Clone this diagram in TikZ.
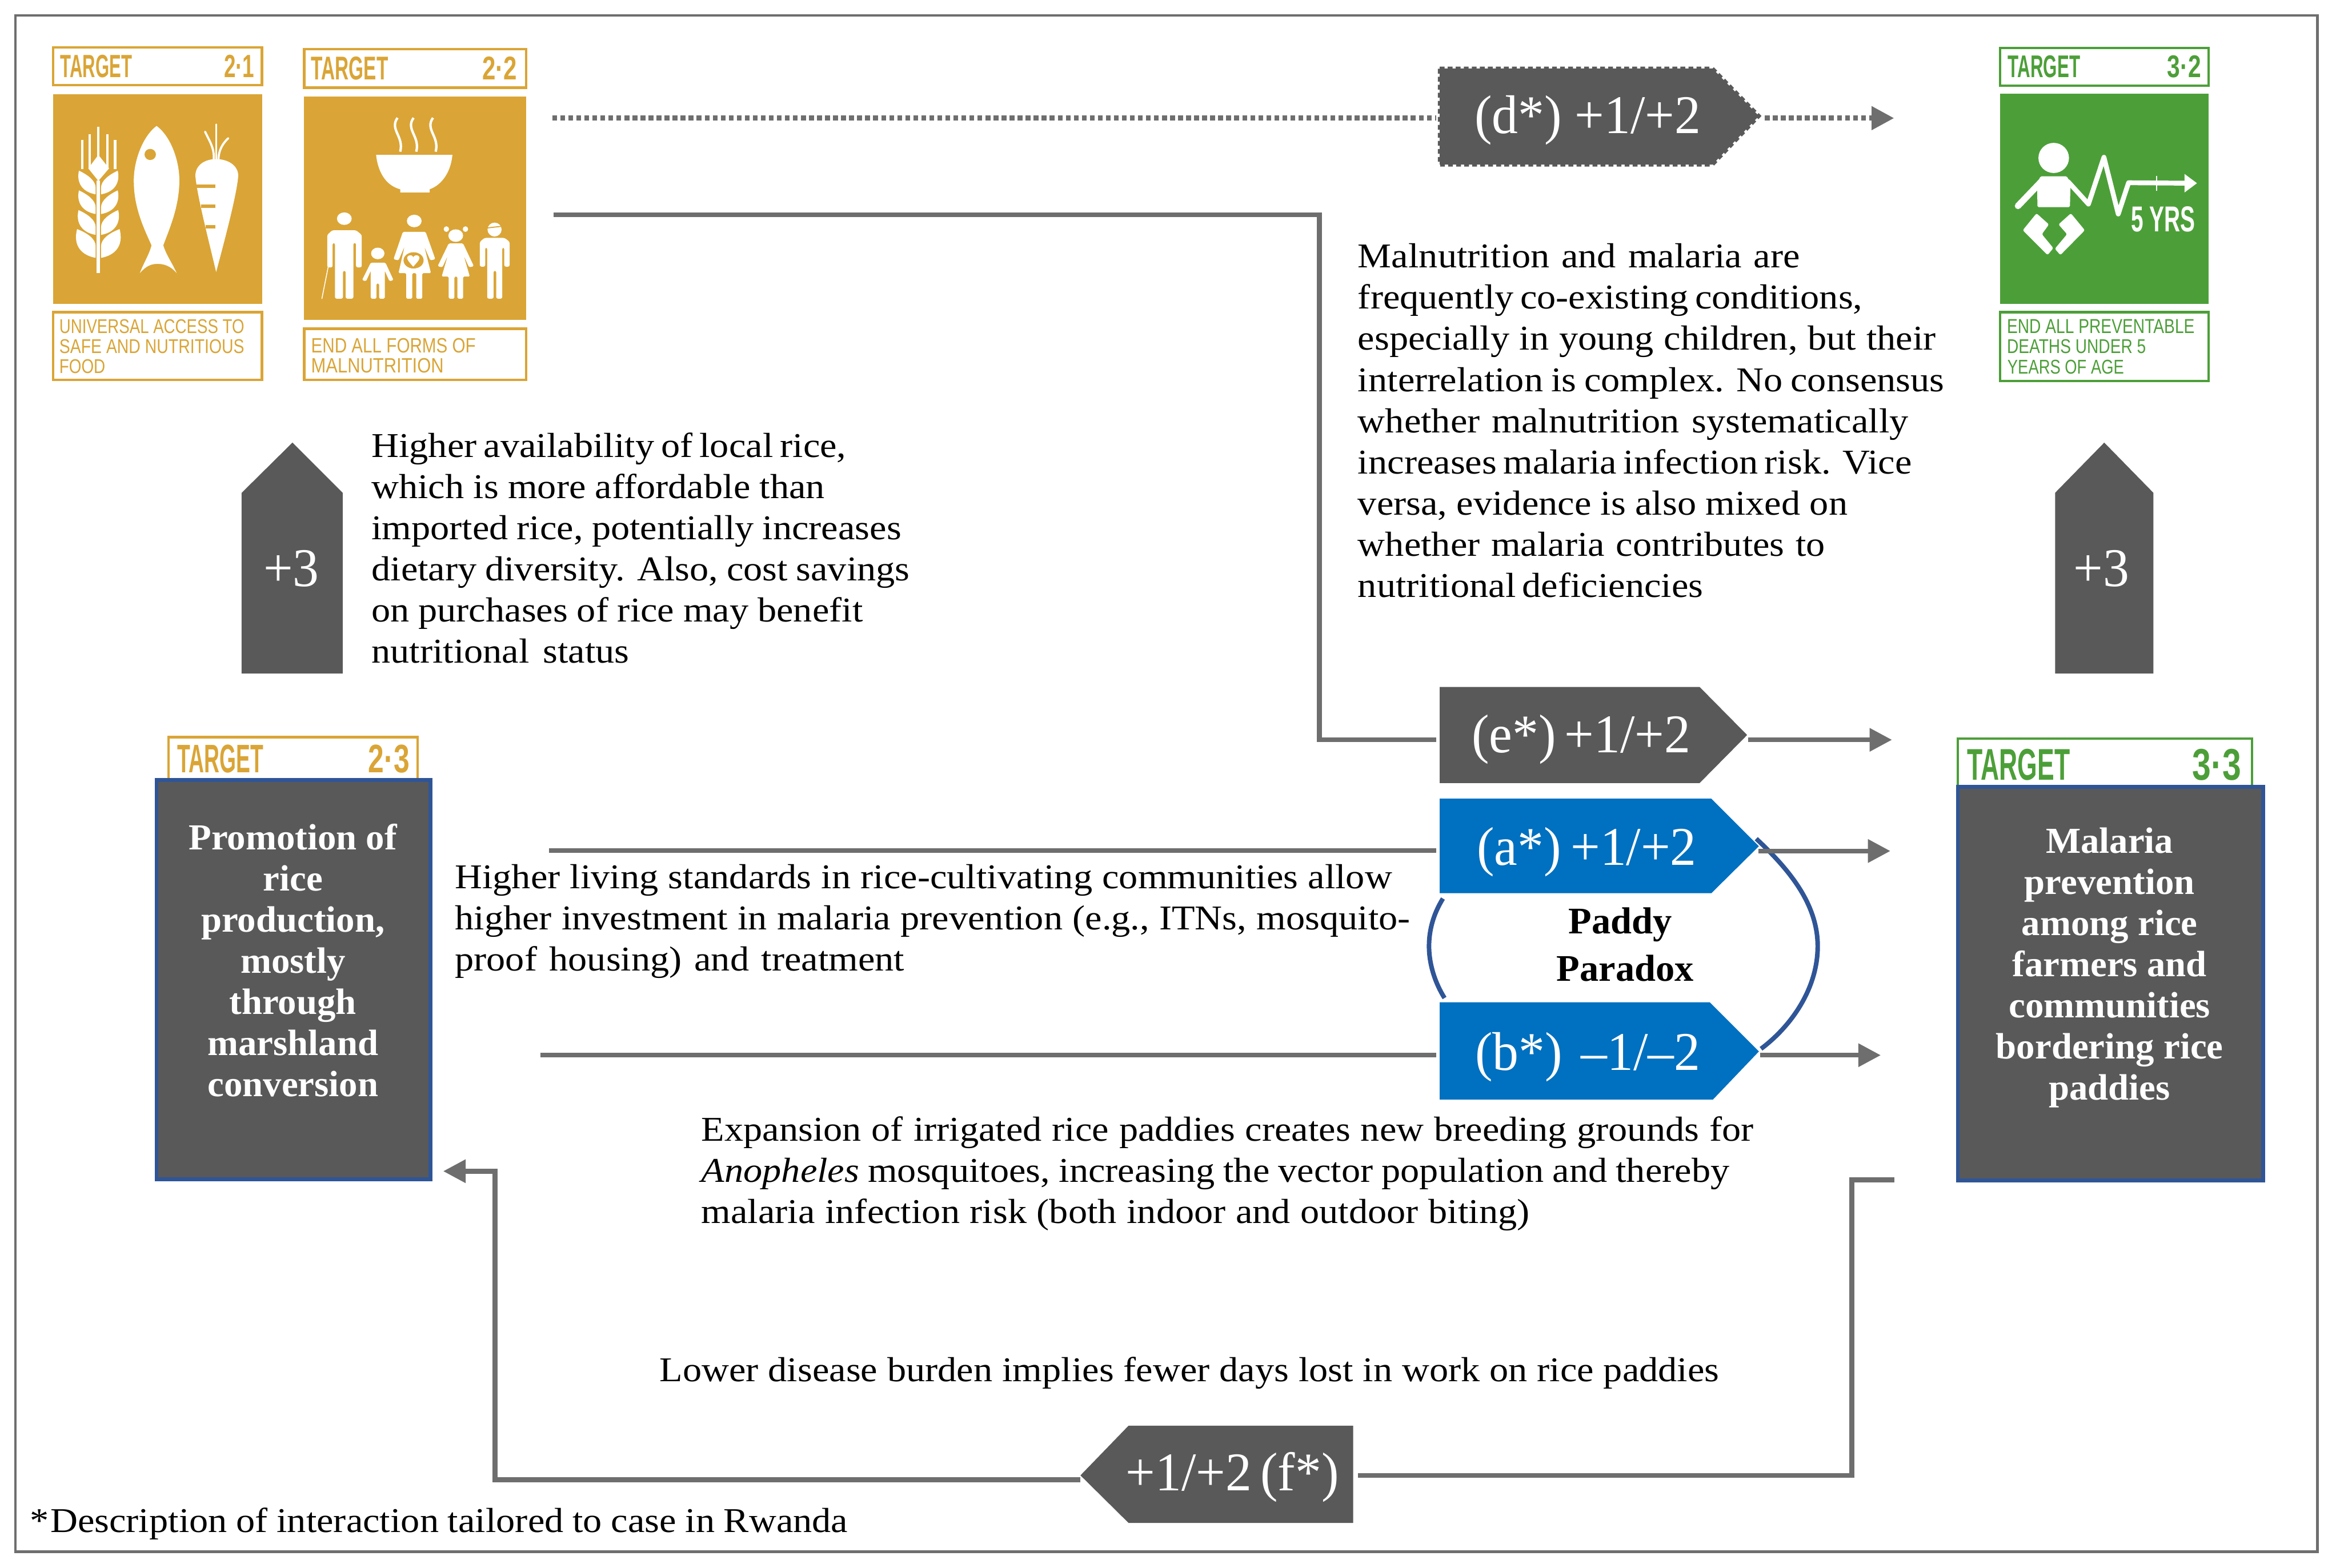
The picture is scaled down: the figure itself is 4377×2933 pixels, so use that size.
\documentclass[tikz,border=0pt]{standalone}
\usepackage{fontspec}
\usepackage{graphicx}
\usetikzlibrary{arrows.meta}
\setmainfont{Liberation Serif}
\newfontfamily\bodyf[FakeStretch=1.09]{Liberation Serif}
\newfontfamily\boldf[FakeStretch=1.01]{Liberation Serif}
\newfontfamily\bigf[FakeStretch=0.96]{Liberation Serif}
\newfontfamily\sdgf{Liberation Sans}
\newlength\pxu \setlength\pxu{0.01cm}
\definecolor{gold}{HTML}{DAA536}
\definecolor{sdggreen}{HTML}{4C9F38}
\definecolor{darkbox}{HTML}{595959}
\definecolor{conn}{HTML}{6E6E6E}
\definecolor{blueb}{HTML}{0070C0}
\definecolor{arcb}{HTML}{2F5597}
\newcommand\blocksetup{\baselineskip=77\pxu\lineskiplimit=-200pt\lineskip=0pt\parskip=0pt}
\newcommand\lineW[2]{\hbox{\makebox[#1\pxu][s]{#2}}}
\newcommand\lineC[1]{\hbox to 0pt{\hss #1\hss}}
\newcommand\bodysize{\bodyf\fontsize{18.5}{22}\selectfont}
\newcommand\boldsize{\boldf\bfseries\fontsize{19.5}{22}\selectfont}
\newcommand\bigsize{\bigf\fontsize{29}{34}\selectfont}
\newcommand\fitnode[7]{\node[txt,text=#2] (#1) at (#4,#5) {\resizebox{#6\pxu}{#7\pxu}{\sdgf #3}};}
\tikzset{
  txt/.style={anchor=base west,inner sep=0pt,outer sep=0pt},
  ctxt/.style={anchor=base,inner sep=0pt,outer sep=0pt},
  conline/.style={draw=conn,line width=9\pxu},
  conarrow/.style={conline,-{Triangle[length=0.42cm,width=0.42cm]}},
  dotline/.style={conline,dash pattern=on 0.09cm off 0.06cm,line width=10\pxu},
  condots/.style={conarrow,dash pattern=on 0.09cm off 0.06cm,line width=10\pxu},
  sdgframe/.style={line width=4.5\pxu,fill=white},
  darkbox/.style={fill=darkbox,draw=arcb,line width=7\pxu},
  tag/.style={fill=darkbox},
  tagblue/.style={fill=blueb},
  paradox/.style={draw=arcb,line width=8.5\pxu},
  stroke/.style={draw=white,line cap=round,line join=round},
}
\begin{document}
\begin{tikzpicture}[x=0.01cm,y=-0.01cm]
\useasboundingbox (0,0) rectangle (4377,2933);
\fill[white] (0,0) rectangle (4377,2933);
\draw[conn,line width=5\pxu] (29,29) rectangle (4335,2903);

% ---------- named ports
\coordinate (dIn) at (1033,221); \coordinate (dL) at (2686,221);
\coordinate (dR) at (3301,221); \coordinate (dEnd) at (3543,221);
\coordinate (eIn) at (1036,402); \coordinate (eCorner) at (2468,402); \coordinate (eCornerB) at (2468,1384);
\coordinate (eL) at (2686,1384); \coordinate (eR) at (3270,1384); \coordinate (eEnd) at (3539,1384);
\coordinate (aIn) at (1027,1591); \coordinate (aL) at (2686,1591); \coordinate (aR) at (3289,1592); \coordinate (aEnd) at (3536,1592);
\coordinate (bIn) at (1011,1974); \coordinate (bL) at (2686,1974); \coordinate (bR) at (3292,1974); \coordinate (bEnd) at (3518,1974);
\coordinate (fIn) at (3543,2207); \coordinate (fC1) at (3464,2207); \coordinate (fC2) at (3464,2760); \coordinate (fR) at (2540,2760);
\coordinate (fL) at (2021,2768); \coordinate (fC3) at (926,2768); \coordinate (fC4) at (926,2191); \coordinate (fEnd) at (829,2191);

% ---------- connectors
\draw[dotline] (dIn) -- (dL);
\draw[condots] (dR) -- (dEnd);
\draw[conline,line join=miter] (eIn) -- (eCorner) -- (eCornerB) -- (eL);
\draw[conarrow] (eR) -- (eEnd);
\draw[conline] (aIn) -- (aL);
\draw[conline] (bIn) -- (bL);
\draw[conarrow] (bR) -- (bEnd);
\draw[conline] (fIn) -- (fC1) -- (fC2) -- (fR);
\draw[conarrow] (fL) -- (fC3) -- (fC4) -- (fEnd);

% ---------- Paddy paradox arcs
\draw[paradox] (3285,1569) .. controls (3345,1625) and (3400,1690) .. (3400,1770) .. controls (3400,1850) and (3350,1920) .. (3294,1962);
\draw[paradox] (2699,1681) .. controls (2681,1710) and (2673,1740) .. (2673,1770) .. controls (2673,1805) and (2685,1840) .. (2702,1867);
\draw[conarrow] (aR) -- (aEnd);

% ---------- tags
\path[tag,draw=darkbox,dash pattern=on 0.09cm off 0.06cm,line width=7\pxu] (2693,128) -- (3203,128) -- (3290,217) -- (3203,308) -- (2693,308) -- cycle;
\node[ctxt,text=white] (dTag) at (2970,250) {\bigsize\lineW{423}{(d*) +1/+2}};
\fill[tag] (2693,1285) -- (3179,1285) -- (3268,1375) -- (3179,1465) -- (2693,1465) -- cycle;
\node[ctxt,text=white] (eTag) at (2957,1408) {\bigsize\lineW{408}{(e*) +1/+2}};
\fill[tagblue] (2693,1494) -- (3201,1494) -- (3290,1583) -- (3201,1671) -- (2693,1671) -- cycle;
\node[ctxt,text=white] (aTag) at (2968,1618) {\bigsize\lineW{411}{(a*) +1/+2}};
\fill[tagblue] (2693,1875) -- (3198,1875) -- (3290,1967) -- (3204,2057) -- (2693,2057) -- cycle;
\node[ctxt,text=white] (bTag) at (2970,2002) {\bigsize\lineW{421}{(b*) –1/–2}};
\fill[tag] (2111,2667) -- (2531,2667) -- (2531,2849) -- (2111,2849) -- (2021,2760) -- cycle;
\node[ctxt,text=white] (fTag) at (2304,2789) {\bigsize\lineW{396}{+1/+2 (f*)}};

% ---------- up arrows +3
\fill[tag] (452,1260) -- (452,922) -- (547,828) -- (641,922) -- (641,1260) -- cycle;
\node[ctxt,text=white] (upL) at (545,1097) {\bigsize +3};
\fill[tag] (3844,1260) -- (3844,922) -- (3936,828) -- (4028,922) -- (4028,1260) -- cycle;
\node[ctxt,text=white] (upR) at (3931,1097) {\bigsize +3};

% ---------- Target 2.1
\draw[sdgframe,draw=gold] (99,89) rectangle (490,159);
\fill[gold] (99,176) rectangle (490,568);
\draw[sdgframe,draw=gold] (99,584) rectangle (490,711);
\fitnode{t21a}{gold}{\bfseries TARGET}{113}{145}{134}{42}
\fitnode{t21b}{gold}{\bfseries 2·1}{419}{145}{57}{42}
\fitnode{t21c}{gold}{UNIVERSAL ACCESS TO}{111}{624}{346}{26}
\fitnode{t21d}{gold}{SAFE AND NUTRITIOUS}{111}{661}{346}{26}
\fitnode{t21e}{gold}{FOOD}{111}{698}{86}{26}

% ---------- Target 2.2
\draw[sdgframe,draw=gold] (569,92) rectangle (984,164);
\fill[gold] (569,181) rectangle (984,598);
\draw[sdgframe,draw=gold] (569,615) rectangle (984,711);
\fitnode{t22a}{gold}{\bfseries TARGET}{582}{149}{144}{43}
\fitnode{t22b}{gold}{\bfseries 2·2}{902}{149}{65}{43}
\fitnode{t22c}{gold}{END ALL FORMS OF}{582}{660}{308}{27}
\fitnode{t22d}{gold}{MALNUTRITION}{582}{697}{248}{27}

% ---------- Target 3.2
\draw[sdgframe,draw=sdggreen] (3741,90) rectangle (4131,160);
\fill[sdggreen] (3741,175) rectangle (4131,568);
\draw[sdgframe,draw=sdggreen] (3741,584) rectangle (4131,713);
\fitnode{t32a}{sdggreen}{\bfseries TARGET}{3756}{145}{135}{41}
\fitnode{t32b}{sdggreen}{\bfseries 3·2}{4054}{145}{63}{41}
\fitnode{t32c}{sdggreen}{END ALL PREVENTABLE}{3754}{623}{351}{26}
\fitnode{t32d}{sdggreen}{DEATHS UNDER 5}{3754}{661}{260}{26}
\fitnode{t32e}{sdggreen}{YEARS OF AGE}{3755}{699}{218}{26}

% ---------- icons, in crop coordinates
\begin{scope}[xshift=0.6cm,yshift=-0.6cm,x=0.00625cm,y=-0.004338cm]
  % wheat
  \draw[stroke,line width=6\pxu,line cap=butt] (198,640) -- (198,1040);
  \foreach \X/\T in {150/465,172/440,198/408,225/440,248/465}
    \draw[stroke,line width=4.5\pxu,line cap=butt] (\X,\T) -- (\X,590);
  \fill[white] (198,530) -- (230,588) -- (198,642) -- (168,588) -- cycle;
  \foreach \o/\h in {0/0,85/0,170/5,252/22}{
    \fill[white] (140-\h/4,598+\o) .. controls (165,615+\o) and (190,640+\o) .. (190,672+\o) -- (190,700+\o+\h) .. controls (150,690+\o+\h) and (132-\h/2,650+\o+\h) .. cycle;
    \fill[white] (256+\h/4,598+\o) .. controls (231,615+\o) and (206,640+\o) .. (206,672+\o) -- (206,700+\o+\h) .. controls (246,690+\o+\h) and (264+\h/2,650+\o+\h) .. cycle;
  }
  % fish
  \fill[white] (372,405) .. controls (415,450) and (442,560) .. (440,650) .. controls (438,760) and (410,850) .. (392,920)
     .. controls (400,960) and (420,1000) .. (432,1040) .. controls (415,1010) and (395,1000) .. (375,1000) .. controls (355,1000) and (340,1010) .. (322,1040)
     .. controls (332,1000) and (350,960) .. (357,920) .. controls (335,850) and (305,760) .. (304,650) .. controls (302,560) and (330,450) .. cycle;
  \fill[gold] (353,528) ellipse [x radius=17,y radius=24];
  % carrot
  \fill[white] (550,1035) .. controls (575,900) and (612,700) .. (616,620) .. controls (616,575) and (585,548) .. (550,548) .. controls (515,548) and (488,575) .. (488,620) .. controls (492,700) and (528,900) .. cycle;
  \fill[gold] (492,658) rectangle (547,672);
  \fill[gold] (505,745) rectangle (547,759);
  \fill[gold] (518,833) rectangle (547,847);
  \draw[stroke,line width=3\pxu] (550,398) -- (550,550);
  \draw[stroke,line width=4\pxu] (517,430) .. controls (530,470) and (545,500) .. (543,550);
  \draw[stroke,line width=4\pxu] (586,458) .. controls (570,480) and (557,510) .. (557,550);
  % bowl
  \fill[white] (1028,530) -- (1256,530) .. controls (1250,620) and (1215,665) .. (1188,678) -- (1188,692) -- (1100,692) -- (1100,678) .. controls (1065,665) and (1035,620) .. cycle;
  \foreach \X in {1092,1140,1198}
    \draw[stroke,line width=4.5\pxu,line cap=butt] (\X,370) .. controls (\X-25,420) and (\X+20,450) .. (\X+8,516);
  % old man
  \fill[white] (933,805) ellipse [x radius=22,y radius=27];
  \fill[white,rounded corners=3\pxu] (882,1015) -- (882,875) -- (897,855) -- (968,855) -- (985,875) -- (985,1015) -- (968,1015) -- (968,910) -- (960,910) -- (960,1150) -- (937,1150) -- (937,1030) -- (929,1030) -- (929,1150) -- (905,1150) -- (905,910) -- (898,910) -- (898,1015) -- cycle;
  \draw[stroke,line width=1.6\pxu] (888,990) -- (866,1150);
  % child
  \fill[white] (1033,955) ellipse [x radius=20,y radius=25];
  \fill[white,rounded corners=2\pxu] (1012,995) -- (1056,995) -- (1080,1070) -- (1068,1075) -- (1054,1030) -- (1054,1150) -- (1037,1150) -- (1037,1085) -- (1029,1085) -- (1029,1150) -- (1012,1150) -- (1012,1030) -- (998,1075) -- (986,1070) -- cycle;
  % pregnant woman
  \fill[white] (1142,815) ellipse [x radius=22,y radius=27];
  \fill[white,rounded corners=2\pxu] (1108,862) -- (1176,862) -- (1205,980) -- (1190,985) -- (1172,925) -- (1192,1040) -- (1166,1040) -- (1166,1150) -- (1148,1150) -- (1148,1040) -- (1136,1040) -- (1136,1150) -- (1118,1150) -- (1118,1040) -- (1095,1040) -- (1113,925) -- (1095,985) -- (1080,980) -- cycle;
  \fill[gold] (1140,985) ellipse [x radius=30,y radius=35];
  \fill[white] (1139,1012) .. controls (1125,990) and (1115,975) .. (1125,965) .. controls (1132,960) and (1138,965) .. (1139,972) .. controls (1140,965) and (1148,960) .. (1154,965) .. controls (1163,975) and (1153,990) .. cycle;
  % girl
  \fill[white] (1266,878) ellipse [x radius=22,y radius=27];
  \fill[white] (1238,850) ellipse [x radius=8,y radius=12];
  \fill[white] (1295,850) ellipse [x radius=8,y radius=12];
  \fill[white,rounded corners=2\pxu] (1245,912) -- (1288,912) -- (1320,1010) -- (1306,1015) -- (1290,965) -- (1308,1055) -- (1288,1055) -- (1288,1150) -- (1271,1150) -- (1271,1055) -- (1262,1055) -- (1262,1150) -- (1245,1150) -- (1245,1055) -- (1224,1055) -- (1242,965) -- (1226,1015) -- (1212,1010) -- cycle;
  % boy
  \fill[white] (1382,852) ellipse [x radius=21,y radius=30];
  \draw[gold,line width=2\pxu] (1360,845) -- (1403,838);
  \fill[white,rounded corners=3\pxu] (1338,1012) -- (1338,905) -- (1352,888) -- (1412,888) -- (1427,905) -- (1427,1012) -- (1411,1012) -- (1411,930) -- (1405,930) -- (1405,1150) -- (1387,1150) -- (1387,1030) -- (1379,1030) -- (1379,1150) -- (1360,1150) -- (1360,930) -- (1354,930) -- (1354,1012) -- cycle;
\end{scope}
\begin{scope}[xshift=37cm,yshift=-0.6cm,x=0.0035714cm,y=-0.004338cm]
  \fill[white] (390,543) ellipse [x radius=80,y radius=65];
  \fill[white,rounded corners=2\pxu] (322,622) -- (458,622) -- (478,650) -- (475,755) -- (305,755) -- (303,650) -- cycle;
  \draw[stroke,line width=12\pxu] (203,750) -- (325,645);
  \draw[stroke,line width=9\pxu] (465,645) -- (572,742) -- (653,540) -- (728,785) -- (782,650) -- (1090,652);
  \draw[white,line width=2\pxu] (928,620) -- (928,685);
  \fill[white] (1075,612) -- (1140,652) -- (1075,692) -- cycle;
  \fill[white,rounded corners=3\pxu] (300,782) -- (365,830) -- (328,872) -- (388,932) -- (358,962) -- (228,855) -- cycle;
  \fill[white,rounded corners=3\pxu] (480,782) -- (415,830) -- (460,872) -- (396,935) -- (425,962) -- (553,855) -- cycle;
\end{scope}
\fitnode{yrs}{white}{\bfseries 5 YRS}{3986}{433}{120}{47}

% ---------- Target 2.3 and its box
\draw[sdgframe,draw=gold] (315,1379) rectangle (781,1470);
\fitnode{t23a}{gold}{\bfseries TARGET}{332}{1445}{161}{52}
\fitnode{t23b}{gold}{\bfseries 2·3}{689}{1445}{77}{52}
\draw[darkbox] (293,1459) rectangle (805,2206);
\node[ctxt,text=white] (promo) at (548,1589) {\boldsize\blocksetup\vtop{\hsize=0pt
  \lineC{Promotion of}\lineC{rice}\lineC{production,}\lineC{mostly}\lineC{through}\lineC{marshland}\lineC{conversion}}};

% ---------- Target 3.3 and its box
\draw[sdgframe,draw=sdggreen] (3662,1382) rectangle (4212,1480);
\fitnode{t33a}{sdggreen}{\bfseries TARGET}{3680}{1459}{192}{58}
\fitnode{t33b}{sdggreen}{\bfseries 3·3}{4101}{1459}{91}{58}
\draw[darkbox] (3662,1472) rectangle (4233,2208);
\node[ctxt,text=white] (malp) at (3946,1596) {\boldsize\blocksetup\vtop{\hsize=0pt
  \lineC{Malaria}\lineC{prevention}\lineC{among rice}\lineC{farmers and}\lineC{communities}\lineC{bordering rice}\lineC{paddies}}};

% ---------- Paddy Paradox label
\node[ctxt] (pp) at (3040,1747) {\boldf\bfseries\fontsize{20}{22}\selectfont\blocksetup\baselineskip=88\pxu\vtop{\hsize=0pt
  \lineC{Paddy\hspace{18\pxu}}\lineC{Paradox}}};

% ---------- body text
\node[txt] (noteA) at (695,855) {\bodysize\blocksetup\vtop{
  \lineW{888}{Higher availability of local rice,}
  \lineW{848}{which is more affordable than}
  \lineW{991}{imported rice, potentially increases}
  \lineW{1007}{dietary diversity. Also, cost savings}
  \lineW{919}{on purchases of rice may benefit}
  \lineW{482}{nutritional status}}};
\node[txt] (noteB) at (2540,501) {\bodysize\blocksetup\vtop{
  \lineW{827}{Malnutrition and malaria are}
  \lineW{944}{frequently co-existing conditions,}
  \lineW{1081}{especially in young children, but their}
  \lineW{1097}{interrelation is complex. No consensus}
  \lineW{1030}{whether malnutrition systematically}
  \lineW{1036}{increases malaria infection risk. Vice}
  \lineW{916}{versa, evidence is also mixed on}
  \lineW{874}{whether malaria contributes to}
  \lineW{642}{nutritional deficiencies}}};
\node[txt] (noteC) at (851,1662) {\bodysize\blocksetup\vtop{
  \lineW{1753}{Higher living standards in rice-cultivating communities allow}
  \lineW{1787}{higher investment in malaria prevention (e.g., ITNs, mosquito-}
  \lineW{841}{proof housing) and treatment}}};
\node[txt] (noteD) at (1312,2134) {\bodysize\blocksetup\vtop{
  \lineW{1968}{Expansion of irrigated rice paddies creates new breeding grounds for}
  \lineW{1923}{\textit{Anopheles} mosquitoes, increasing the vector population and thereby}
  \lineW{1549}{malaria infection risk (both indoor and outdoor biting)}}};
\node[txt] (noteE) at (1234,2584) {\bodysize\lineW{1982}{Lower disease burden implies fewer days lost in work on rice paddies}};
\node[txt] (noteF) at (56,2867) {\bodysize\lineW{1530}{* \hspace{-14\pxu}Description of interaction tailored to case in Rwanda}};
\end{tikzpicture}
\end{document}
